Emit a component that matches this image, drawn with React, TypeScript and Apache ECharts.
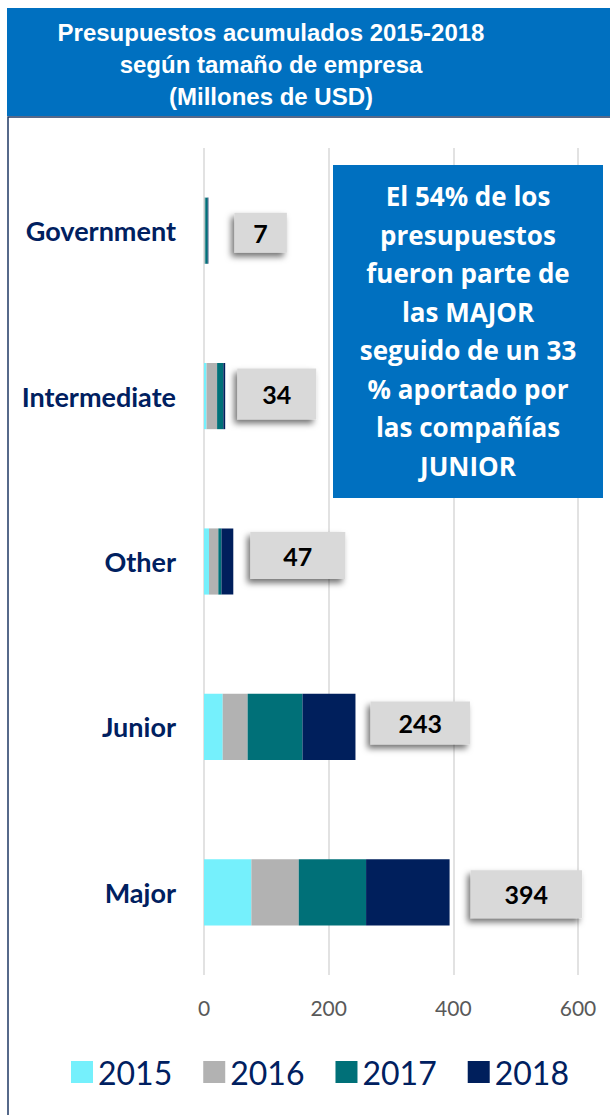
import React, { useEffect, useRef } from "react";
import * as echarts from "echarts";

const categories = ["Major", "Junior", "Other", "Intermediate", "Government"];
const years = ["2015", "2016", "2017", "2018"];
const values2015 = [76, 30, 8, 4, 0.5];
const values2016 = [76, 40, 15, 17, 1.5];
const values2017 = [108, 88, 5, 10, 4];
const values2018 = [134, 85, 19, 3, 1];
const xTicks = [0, 200, 400, 600];
const titleLines = ["Presupuestos acumulados 2015-2018", "según tamaño de empresa", "(Millones de USD)"];
const calloutLines = [
  "El 54% de los",
  "presupuestos",
  "fueron parte de",
  "las MAJOR",
  "seguido de un 33",
  "% aportado por",
  "las compañías",
  "JUNIOR",
];

const colors = ["#75F0FC", "#B2B2B2", "#007078", "#001F5C"];
const NAVY = "#002060";
const BODY_FONT = "Lato, 'Open Sans', sans-serif";

export default function App() {
  const ref = useRef<HTMLDivElement>(null);
  useEffect(() => {
    if (!ref.current) return;
    const chart = echarts.init(ref.current, null, { renderer: "svg" });
    const seriesValues = [values2015, values2016, values2017, values2018];
    const totals = categories.map((_, i) =>
      Math.round(seriesValues.reduce((s, arr) => s + arr[i], 0))
    );
    // per-category label box styling (box padding / distance / offset)
    const boxStyle = [
      { padH: 34, padV: 11.5, dist: 21, dy: 2 },
      { padH: 28, padV: 9, dist: 15, dy: -4 },
      { padH: 33, padV: 11, dist: 17, dy: -6 },
      { padH: 25, padV: 13, dist: 12, dy: -2 },
      { padH: 19, padV: 7.5, dist: 26, dy: 2 },
    ];
    const series = years.map((y, si) => ({
      name: y,
      type: "bar",
      stack: "total",
      barWidth: "40%",
      itemStyle: { color: colors[si] },
      data: seriesValues[si].map((v, ci) => {
        if (si !== 3) return v;
        const b = boxStyle[ci];
        return {
          value: v,
          label: {
            show: true,
            position: "right",
            distance: b.dist,
            offset: [0, b.dy],
            formatter: String(totals[ci]),
            padding: [b.padV, b.padH],
            backgroundColor: "#D9D9D9",
            color: "#000",
            fontSize: 25,
            fontWeight: "bold",
            fontFamily: BODY_FONT,
            shadowColor: "rgba(0,0,0,0.55)",
            shadowBlur: 6,
            shadowOffsetX: -3,
            shadowOffsetY: 4,
          },
        };
      }),
    }));

    const titleTop = 32;
    const graphic: any[] = [
      { type: "rect", shape: { x: 7, y: 8, width: 620, height: 108 }, style: { fill: "#0070C0" }, z: 0 },
      {
        type: "rect",
        shape: { x: 8, y: 117, width: 640, height: 1020 },
        style: { fill: "none", stroke: "#1F3864", lineWidth: 1.5 },
        z: 0,
      },
      ...titleLines.map((t, i) => ({
        type: "text",
        x: 271,
        y: titleTop + i * 32,
        style: {
          text: t,
          fill: "#fff",
          font: "bold 24px 'Liberation Sans', Arial, sans-serif",
          textAlign: "center",
          textVerticalAlign: "middle",
        },
      })),
      { type: "rect", shape: { x: 333, y: 165, width: 270, height: 333 }, style: { fill: "#0070C0" }, z: 10 },
      ...calloutLines.map((t, i) => ({
        type: "text",
        x: 468,
        y: 196 + i * 38.5,
        z: 11,
        style: {
          text: t,
          fill: "#fff",
          font: "bold 26px 'Open Sans', sans-serif",
          textAlign: "center",
          textVerticalAlign: "middle",
        },
      })),
    ];

    chart.setOption({
      animation: false,
      backgroundColor: "#fff",
      color: colors,
      grid: { left: 204, right: 32, top: 148, bottom: 140 },
      xAxis: {
        type: "value",
        min: 0,
        max: 600,
        interval: 200,
        axisLine: { show: false },
        axisTick: { show: false },
        splitLine: { show: true, lineStyle: { color: "#D9D9D9", width: 1.5 } },
        axisLabel: {
          color: "#595959",
          fontSize: 21,
          fontFamily: BODY_FONT,
          margin: 22,
          formatter: (v: number) => (xTicks.includes(v) ? String(v) : ""),
        },
      },
      yAxis: {
        type: "category",
        data: categories,
        axisLine: { show: false },
        axisTick: { show: false },
        axisLabel: {
          color: NAVY,
          fontSize: 27,
          fontWeight: "bold",
          fontFamily: BODY_FONT,
          margin: 28,
        },
      },
      legend: {
        data: years,
        bottom: 22,
        left: 66,
        icon: "rect",
        itemWidth: 22,
        itemHeight: 22,
        itemGap: 31,
        textStyle: { color: NAVY, fontSize: 32, fontFamily: BODY_FONT },
      },
      graphic,
      series,
    });
    return () => chart.dispose();
  }, []);
  return (
    <div
      ref={ref}
      style={{ position: "absolute", left: 0, top: 0, width: 610, height: 1115 }}
    />
  );
}
